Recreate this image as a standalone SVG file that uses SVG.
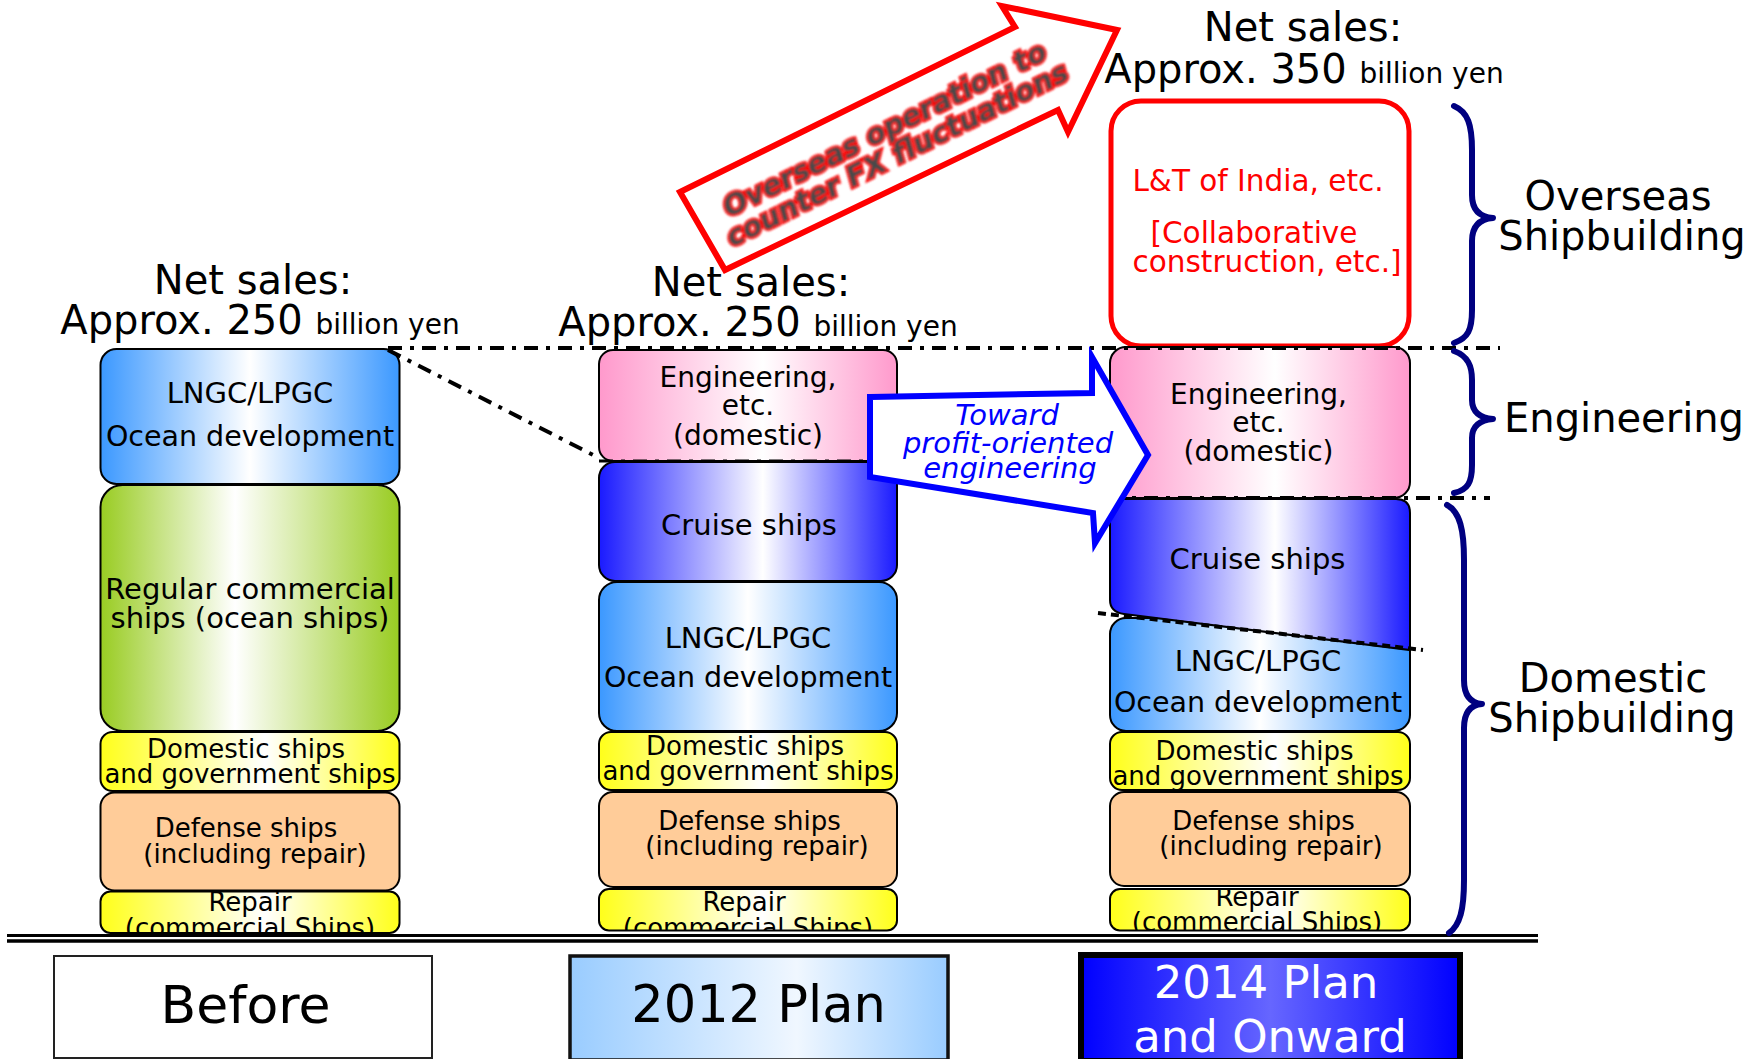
<svg xmlns="http://www.w3.org/2000/svg" width="1752" height="1059" viewBox="0 0 1752 1059">
<defs>
<linearGradient id="gBlue" x1="0" y1="0" x2="1" y2="0"><stop offset="0" stop-color="#3b98ff"/><stop offset="0.5" stop-color="#ffffff"/><stop offset="1" stop-color="#3b98ff"/></linearGradient>
<linearGradient id="gGreen" x1="0" y1="0" x2="1" y2="0"><stop offset="0" stop-color="#99cc22"/><stop offset="0.45" stop-color="#ffffff"/><stop offset="1" stop-color="#99cc22"/></linearGradient>
<linearGradient id="gYellow" x1="0" y1="0" x2="1" y2="0"><stop offset="0" stop-color="#ffff1a"/><stop offset="0.55" stop-color="#ffffff"/><stop offset="1" stop-color="#ffff1a"/></linearGradient>
<linearGradient id="gPink" x1="0" y1="0" x2="1" y2="0"><stop offset="0" stop-color="#ff99cc"/><stop offset="0.55" stop-color="#ffffff"/><stop offset="1" stop-color="#ff99cc"/></linearGradient>
<linearGradient id="gCruise" x1="0" y1="0" x2="1" y2="0"><stop offset="0" stop-color="#1a1aff"/><stop offset="0.55" stop-color="#ffffff"/><stop offset="1" stop-color="#1a1aff"/></linearGradient>
<linearGradient id="g2012" x1="0" y1="0" x2="1" y2="0"><stop offset="0" stop-color="#99ccff"/><stop offset="0.6" stop-color="#f0f7ff"/><stop offset="1" stop-color="#99ccff"/></linearGradient>
<linearGradient id="g2014" x1="0" y1="0" x2="1" y2="0"><stop offset="0" stop-color="#0000ff"/><stop offset="0.5" stop-color="#6666ff"/><stop offset="1" stop-color="#0000ff"/></linearGradient>
<clipPath id="clipR1"><rect x="100" y="891.5" width="300" height="41.5"/></clipPath>
<clipPath id="clipR2"><rect x="599" y="889" width="298" height="41.5"/></clipPath>
<clipPath id="clipR3"><rect x="1110" y="889" width="300" height="41.5"/></clipPath>
<filter id="soft" x="-5%" y="-20%" width="110%" height="140%"><feGaussianBlur stdDeviation="0.9"/></filter>
<style>
text{font-family:"DejaVu Sans","Verdana",sans-serif;fill:#000;}
.box{stroke:#000;stroke-width:2;}
.t{font-size:26px;text-anchor:middle;}
.t27{font-size:28.5px;text-anchor:middle;}
.t28{font-size:28px;text-anchor:middle;}
.t29{font-size:29px;text-anchor:middle;}
.red{font-size:29.5px;text-anchor:middle;fill:#ff0000;}
.blue{font-size:29px;text-anchor:middle;fill:#0000ff;font-style:italic;}
.big{font-size:40px;text-anchor:middle;}
.small{font-size:28px;}
.fx{fill:#4a4a4a;stroke:#ff0000;stroke-width:4;paint-order:stroke;text-anchor:middle;}
.dd{fill:none;stroke:#000;stroke-width:4;stroke-dasharray:14 8 4 8;}
.brace{fill:none;stroke:#000080;stroke-width:6;stroke-linecap:round;stroke-linejoin:round;}
</style>
</defs>
<rect width="1752" height="1059" fill="#fff"/>

<!-- Overseas arrow -->
<g id="overseas-arrow">
<polygon points="680,192 1015,27 1002,6 1117,30 1068,132 1058,110 725,270" fill="#fff" stroke="#ff0000" stroke-width="6" stroke-linejoin="miter"/>
<g transform="translate(889,138) rotate(-26.5)" filter="url(#soft)" style="font-weight:bold;font-style:italic;font-size:28.5px;">
<text class="fx" x="0" y="0">Overseas operation to</text>
<text class="fx" x="0" y="28">counter FX fluctuations</text>
</g>
</g>

<!-- Net sales headers -->
<g id="sales-before">
<text class="big" x="253" y="294">Net sales:</text>
<text class="big" x="260" y="334">Approx. 250 <tspan class="small">billion yen</tspan></text>
</g>
<g id="sales-2012">
<text class="big" x="751" y="296">Net sales:</text>
<text class="big" x="758" y="336">Approx. 250 <tspan class="small">billion yen</tspan></text>
</g>
<g id="sales-2014">
<text class="big" x="1303" y="41">Net sales:</text>
<text class="big" x="1304" y="83">Approx. 350 <tspan class="small">billion yen</tspan></text>
</g>

<!-- Column 1: Before -->
<g id="c1-lngc"><rect class="box" x="100.5" y="349" width="299" height="135" rx="16" fill="url(#gBlue)"/>
<text class="t29" x="250" y="403">LNGC/LPGC</text><text class="t27" x="250" y="446">Ocean development</text></g>
<g id="c1-regular"><rect class="box" x="100.5" y="485" width="299" height="246" rx="22" fill="url(#gGreen)"/>
<text class="t29" x="250" y="599">Regular commercial</text><text class="t29" x="250" y="628">ships (ocean ships)</text></g>
<g id="c1-domestic"><rect class="box" x="100.5" y="732" width="299" height="59" rx="12" fill="url(#gYellow)"/>
<text class="t" x="246" y="758">Domestic ships</text><text class="t" x="250" y="783">and government ships</text></g>
<g id="c1-defense"><rect class="box" x="100.5" y="792.5" width="299" height="98" rx="14" fill="#ffcc99"/>
<text class="t" x="246" y="837">Defense ships</text><text class="t" x="255" y="863">(including repair)</text></g>
<g id="c1-repair"><rect class="box" x="100.5" y="891.5" width="299" height="41.5" rx="10" fill="url(#gYellow)"/>
<g clip-path="url(#clipR1)"><text class="t" x="250" y="911">Repair</text><text class="t" x="250" y="937">(commercial Ships)</text></g></g>

<!-- Column 2: 2012 Plan -->
<g id="c2-eng"><rect class="box" x="599" y="350" width="298" height="111" rx="14" fill="url(#gPink)"/>
<text class="t28" x="748" y="387">Engineering,</text><text class="t28" x="748" y="415">etc.</text><text class="t28" x="748" y="445">(domestic)</text></g>
<g id="c2-cruise"><rect class="box" x="599" y="462" width="298" height="119" rx="16" fill="url(#gCruise)"/>
<text class="t29" x="749" y="535">Cruise ships</text></g>
<g id="c2-lngc"><rect class="box" x="599" y="582" width="298" height="149" rx="18" fill="url(#gBlue)"/>
<text class="t29" x="748" y="648">LNGC/LPGC</text><text class="t27" x="748" y="687">Ocean development</text></g>
<g id="c2-domestic"><rect class="box" x="599" y="732" width="298" height="58" rx="12" fill="url(#gYellow)"/>
<text class="t" x="745" y="755">Domestic ships</text><text class="t" x="748" y="780">and government ships</text></g>
<g id="c2-defense"><rect class="box" x="599" y="792" width="298" height="95" rx="14" fill="#ffcc99"/>
<text class="t" x="749.5" y="830">Defense ships</text><text class="t" x="757" y="855">(including repair)</text></g>
<g id="c2-repair"><rect class="box" x="599" y="889" width="298" height="41.5" rx="10" fill="url(#gYellow)"/>
<g clip-path="url(#clipR2)"><text class="t" x="744" y="911">Repair</text><text class="t" x="748" y="937">(commercial Ships)</text></g></g>

<!-- Column 3: 2014 Plan and Onward -->
<g id="c3-lt"><rect x="1111" y="101" width="298" height="245" rx="30" fill="#fff" stroke="#ff0000" stroke-width="5"/>
<text class="red" x="1258" y="191">L&amp;T of India, etc.</text>
<text class="red" x="1254" y="242.5">[Collaborative</text>
<text class="red" x="1267" y="272">construction, etc.]</text></g>
<g id="c3-eng"><rect class="box" x="1110" y="347" width="300" height="151" rx="16" fill="url(#gPink)"/>
<text class="t28" x="1258.5" y="404">Engineering,</text><text class="t28" x="1258.5" y="432">etc.</text><text class="t28" x="1258.5" y="461">(domestic)</text></g>
<g id="c3-lngc"><rect class="box" x="1110" y="618" width="300" height="113" rx="16" fill="url(#gBlue)"/>
<text class="t29" x="1258" y="671">LNGC/LPGC</text><text class="t27" x="1258" y="712">Ocean development</text></g>
<g id="c3-cruise"><path class="box" d="M1110,513 Q1110,499 1124,499 L1396,499 Q1410,499 1410,513 L1410,650 L1124,614 Q1110,612 1110,600 Z" fill="url(#gCruise)"/>
<text class="t29" x="1257.5" y="569">Cruise ships</text></g>
<g id="c3-domestic"><rect class="box" x="1110" y="732" width="300" height="58" rx="12" fill="url(#gYellow)"/>
<text class="t" x="1254.5" y="760">Domestic ships</text><text class="t" x="1258" y="785">and government ships</text></g>
<g id="c3-defense"><rect class="box" x="1110" y="792" width="300" height="94" rx="14" fill="#ffcc99"/>
<text class="t" x="1263.5" y="830">Defense ships</text><text class="t" x="1271" y="855">(including repair)</text></g>
<g id="c3-repair"><rect class="box" x="1110" y="889" width="300" height="41.5" rx="10" fill="url(#gYellow)"/>
<g clip-path="url(#clipR3)"><text class="t" x="1257" y="906">Repair</text><text class="t" x="1257" y="931">(commercial Ships)</text></g></g>

<!-- Connectors / guide lines -->
<g id="connectors">
<path class="dd" d="M388,348 H1500"/>
<path class="dd" d="M388,350 L599,458"/>
<path class="dd" d="M599,461 H880" style="stroke-width:3"/>
<path class="dd" d="M1110,498 H1490"/>
<path d="M1098,613 L1423,650" fill="none" stroke="#000" stroke-width="4" stroke-dasharray="8 5"/>
<line x1="7" y1="935.5" x2="1538" y2="935.5" stroke="#000" stroke-width="3"/>
<line x1="7" y1="941" x2="1538" y2="941" stroke="#000" stroke-width="3.5"/>
</g>

<!-- Toward arrow -->
<g id="toward-arrow">
<polygon points="870,397 1092,393 1092,357 1148,455 1095,543 1093,513 870,477" fill="#fff" stroke="#0000ff" stroke-width="6" stroke-linejoin="miter"/>
<text class="blue" x="1007" y="425">Toward</text>
<text class="blue" x="1008" y="453">profit-oriented</text>
<text class="blue" x="1010" y="478">engineering</text>
</g>

<!-- Braces -->
<g id="brace-overseas">
<path class="brace" d="M1454,106 C1468,112 1472,125 1472,150 L1472,195 C1472,210 1480,217 1493,218 C1480,219 1472,226 1472,241 L1472,310 C1472,330 1468,338 1454,343"/>
<text class="big" x="1618" y="210">Overseas</text>
<text class="big" x="1622" y="250">Shipbuilding</text>
</g>
<g id="brace-engineering">
<path class="brace" d="M1454,351 C1468,356 1472,366 1472,380 L1472,400 C1472,412 1480,418 1493,419 C1480,420 1472,426 1472,438 L1472,465 C1472,482 1468,490 1454,493"/>
<text x="1504" y="432" style="font-size:40px">Engineering</text>
</g>
<g id="brace-domestic">
<path class="brace" d="M1447,505 C1460,512 1464,530 1464,560 L1464,680 C1464,695 1470,703 1482,704 C1470,705 1464,713 1464,728 L1464,880 C1464,910 1460,925 1449,933"/>
<text class="big" x="1613" y="692">Domestic</text>
<text class="big" x="1612" y="732">Shipbuilding</text>
</g>

<!-- Period labels -->
<g id="label-before">
<rect x="54" y="956" width="378" height="102" fill="#fff" stroke="#222" stroke-width="2"/>
<text x="245.5" y="1023" style="font-size:52px;text-anchor:middle">Before</text>
</g>
<g id="label-2012">
<rect x="570" y="956" width="378" height="104" fill="url(#g2012)" stroke="#111" stroke-width="3.5"/>
<text x="758.5" y="1022" style="font-size:51px;text-anchor:middle">2012 Plan</text>
</g>
<g id="label-2014">
<rect x="1081" y="955" width="379" height="106" fill="url(#g2014)" stroke="#000" stroke-width="6"/>
<text x="1266" y="998" style="font-size:45px;text-anchor:middle;fill:#fff">2014 Plan</text>
<text x="1270" y="1052" style="font-size:45px;text-anchor:middle;fill:#fff">and Onward</text>
</g>
</svg>
